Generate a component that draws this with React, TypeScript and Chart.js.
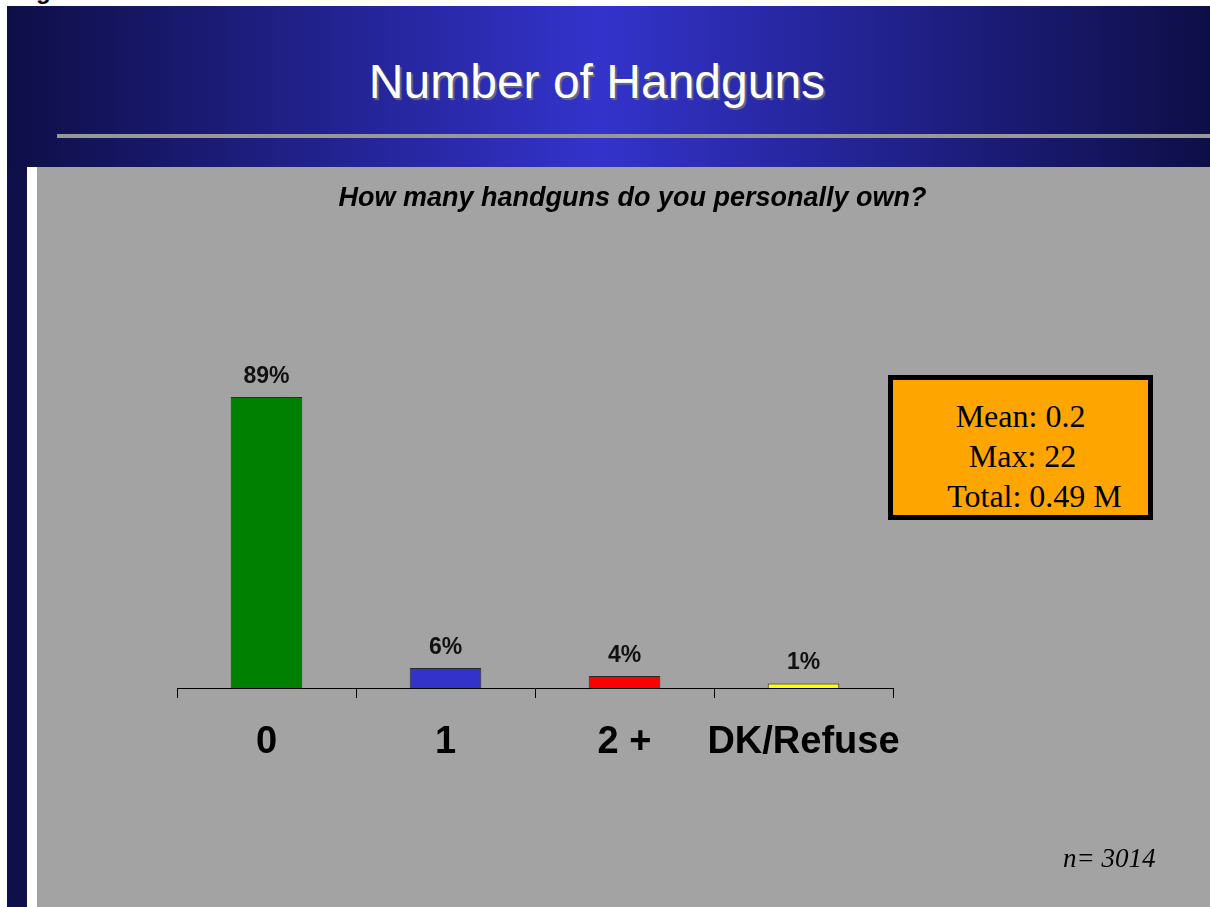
import React, { useEffect, useRef } from "react";
import { Chart, registerables } from "chart.js";

Chart.register(...registerables);

const categories = ["0", "1", "2 +", "DK/Refuse"];
const percentages = [89, 6.1, 3.7, 1.4];
const barColors = ["#008000", "#3333cc", "#ff0000", "#ffff00"];
const yMax = 100;

const titleText = "Number of Handguns";
const questionText = "How many handguns do you personally own?";
const statLines = ["Mean: 0.2", "Max: 22", "Total: 0.49 M"];
const sampleText = "n= 3014";

const SANS = "'Liberation Sans', Arial, Helvetica, sans-serif";
const SERIF = "'Liberation Serif', 'Times New Roman', Times, serif";

const valueLabels = {
  id: "valueLabels",
  afterDatasetsDraw(chart: any) {
    const ctx = chart.ctx;
    const meta = chart.getDatasetMeta(0);
    ctx.save();
    ctx.font = `bold 23px ${SANS}`;
    ctx.fillStyle = "#111";
    ctx.textAlign = "center";
    ctx.textBaseline = "alphabetic";
    meta.data.forEach((bar: any, i: number) => {
      ctx.fillText(`${Math.round(percentages[i])}%`, bar.x, bar.y - 14);
    });
    ctx.restore();
  },
};

function BarChart() {
  const ref = useRef<HTMLCanvasElement | null>(null);
  useEffect(() => {
    if (!ref.current) return;
    const chart = new Chart(ref.current, {
      type: "bar",
      data: {
        labels: categories,
        datasets: [
          {
            data: percentages,
            backgroundColor: barColors,
            borderColor: "#2a2a2a",
            borderWidth: 1,
            barPercentage: 0.4,
            categoryPercentage: 1,
          },
        ],
      },
      options: {
        responsive: false,
        animation: false,
        devicePixelRatio: 1,
        layout: { padding: { left: 140, right: 317, top: 194, bottom: 119 } },
        plugins: {
          legend: { display: false },
          tooltip: { enabled: false },
          title: { display: false },
        },
        scales: {
          x: {
            grid: {
              display: true,
              drawOnChartArea: false,
              drawTicks: true,
              tickLength: 10,
              color: "#000",
              lineWidth: 1,
              offset: true,
            },
            border: { display: true, color: "#000", width: 1 },
            ticks: {
              color: "#000",
              font: { family: SANS, size: 38, weight: "bold" },
              padding: 22,
              maxRotation: 0,
              autoSkip: false,
            },
            afterFit: (s: any) => {
              s.height = 100;
            },
          },
          y: { display: false, min: 0, max: yMax },
        },
      },
      plugins: [valueLabels],
    } as any);
    return () => chart.destroy();
  }, []);
  return (
    <canvas
      ref={ref}
      width={1173}
      height={740}
      style={{ position: "absolute", left: 37, top: 167, width: 1173, height: 740 }}
    />
  );
}

export default function App() {
  return (
    <div
      style={{
        position: "fixed",
        left: 0,
        top: 0,
        width: 1210,
        height: 907,
        background: "#ffffff",
        overflow: "hidden",
      }}
    >
      <div
        style={{
          position: "absolute",
          left: 36,
          top: -21,
          font: `bold 24px ${SANS}`,
          lineHeight: "24px",
          color: "#000",
        }}
      >
        g
      </div>
      <div
        style={{
          position: "absolute",
          left: 7,
          top: 6,
          width: 1203,
          height: 161,
          background: "linear-gradient(to right, #0e0e47 0%, #3333cc 49%, #0e0e47 100%)",
        }}
      />
      <div
        style={{
          position: "absolute",
          left: 57,
          top: 134,
          width: 1153,
          height: 4,
          background: "#989898",
        }}
      />
      <div
        style={{
          position: "absolute",
          left: 0,
          top: 58,
          width: 1194,
          textAlign: "center",
          font: `48px ${SANS}`,
          lineHeight: "48px",
          color: "#fff",
          textShadow: "2px 2px 1px #6a6a8a",
          whiteSpace: "nowrap",
        }}
      >
        {titleText}
      </div>
      <div
        style={{
          position: "absolute",
          left: 7,
          top: 167,
          width: 20,
          height: 740,
          background: "#0f0f4a",
        }}
      />
      <div
        style={{
          position: "absolute",
          left: 37,
          top: 167,
          width: 1173,
          height: 740,
          background: "#a3a3a3",
        }}
      />
      <BarChart />
      <div
        style={{
          position: "absolute",
          left: 0,
          top: 184,
          width: 1265,
          textAlign: "center",
          font: `italic bold 27px ${SANS}`,
          lineHeight: "27px",
          color: "#000",
          whiteSpace: "nowrap",
        }}
      >
        {questionText}
      </div>
      <div
        style={{
          position: "absolute",
          left: 888,
          top: 375,
          width: 265,
          height: 145,
          boxSizing: "border-box",
          border: "5px solid #000",
          background: "#ffa500",
          paddingTop: 16,
          font: `32px ${SERIF}`,
          lineHeight: "40px",
          color: "#000",
          textAlign: "center",
          whiteSpace: "nowrap",
        }}
      >
        {statLines.map((l, i) => (
          <div key={i} style={{ paddingLeft: i === 2 ? 28 : i === 1 ? 4 : 0 }}>
            {l}
          </div>
        ))}
      </div>
      <div
        style={{
          position: "absolute",
          left: 1063,
          top: 845,
          font: `italic 27px ${SERIF}`,
          lineHeight: "27px",
          color: "#000",
          whiteSpace: "nowrap",
        }}
      >
        {sampleText}
      </div>
    </div>
  );
}
